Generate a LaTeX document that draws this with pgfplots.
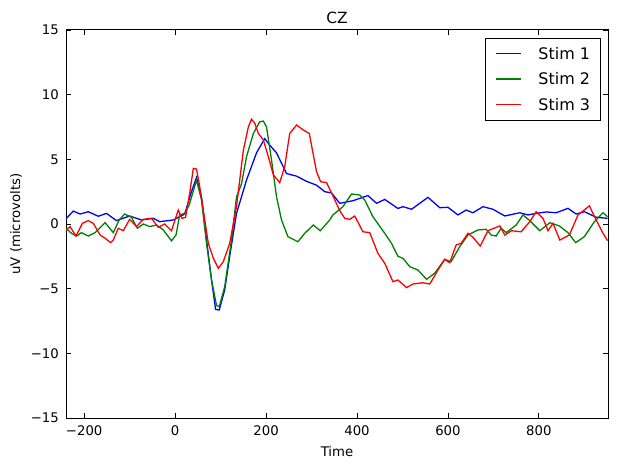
\documentclass[border=0pt]{standalone}
\usepackage{fontspec}
\setmainfont{DejaVu Sans}
\usepackage{pgfplots}
\pgfplotsset{compat=1.18}
\definecolor{mblue}{rgb}{0,0,1}
\definecolor{mgreen}{rgb}{0,0.5,0}
\definecolor{mred}{rgb}{1,0,0}
\newcommand{\legline}[1]{\textcolor{#1}{\rule[5.2bp]{25bp}{1.3bp}}\hspace{17.7bp}}
\begin{document}
\begin{tikzpicture}
\begin{axis}[
  name=ax,
  scale only axis,
  width=542bp, height=388bp,
  xmin=-240, xmax=952, ymin=-15, ymax=15,
  xtick={-200,0,200,400,600,800},
  xticklabels={−200,0,200,400,600,800},
  ytick={-15,-10,-5,0,5,10,15},
  yticklabels={−15,−10,−5,0,5,10,15},
  tick align=inside,
  major tick length=5bp,
  minor tick num=0,
  tick style={black, line width=0.8bp},
  axis line style={line width=1bp},
  every axis plot/.append style={line width=1.3bp},
  font=\fontsize{13.3}{16}\selectfont,
  ticklabel style={font=\fontsize{13.3}{16}\selectfont},
  xticklabel style={anchor=base, inner sep=0pt, yshift=-17.7bp},
  yticklabel style={anchor=east, inner sep=0pt, xshift=-7bp},
  title={CZ},
  every axis title/.style={font=\fontsize{15.5}{18}\selectfont, at={(axis description cs:0.5,1)}, anchor=base, inner sep=0pt, yshift=6bp},
  xlabel={Time},
  xlabel style={at={(axis description cs:0.5,0)}, anchor=base, yshift=-38bp},
  ylabel={uV (microvolts)},
  ylabel style={at={(axis description cs:-0.0923,0.5)}, anchor=center},
  legend cell align=left,
  legend image code/.code={},
  legend style={at={(axis description cs:1,1)}, anchor=north east, xshift=-7.5bp, yshift=-8.3bp,
    draw=black, line width=1bp,
    inner xsep=8bp, inner ysep=6.5bp, row sep=8bp,
    font=\fontsize{16}{19}\selectfont},
]
\addplot[color=mblue] coordinates {(-240,0.4) (-224,1.0) (-209,0.77) (-191,0.95) (-169,0.6) (-151,0.82) (-129,0.26) (-100,0.62) (-74,0.31) (-48,0.44) (-34,0.18) (-4,0.31) (21,0.77) (36,2.5) (47,3.6) (58,2.1) (69,-1.2) (80,-4.3) (89,-6.6) (97,-6.65) (109,-5.1) (120,-2.5) (135,0.82) (157,3.4) (179,5.5) (197,6.6) (208,6.1) (223,5.5) (245,3.9) (267,3.7) (289,3.3) (311,3.0) (329,2.5) (344,2.4) (362,1.6) (391,1.8) (424,2.2) (443,1.6) (461,1.9) (490,1.2) (501,1.34) (520,1.14) (556,2.06) (582,1.26) (600,1.29) (622,0.7) (640,1.08) (655,0.87) (677,1.34) (699,1.14) (725,0.62) (758,0.87) (776,0.7) (794,0.82) (816,0.93) (838,0.87) (864,1.21) (882,0.77) (900,0.95) (926,0.52) (951,0.44)};
\addlegendentry{\legline{mblue}Stim 1}
\addplot[color=mgreen] coordinates {(-240,-0.33) (-228,-0.72) (-217,-0.93) (-206,-0.67) (-191,-0.93) (-176,-0.67) (-154,0.1) (-136,-0.67) (-123,0.31) (-111,0.77) (-96,0.52) (-83,-0.33) (-70,0) (-56,-0.2) (-41,-0.08) (-26,-0.46) (-8,-1.3) (2,-0.85) (10,0.7) (21,0.82) (31,1.47) (47,3.4) (58,1.86) (69,-1.5) (80,-4.3) (91,-6.3) (97,-6.4) (109,-4.85) (124,-1.24) (135,2.1) (146,3.1) (157,5.2) (172,7.0) (186,7.9) (194,7.96) (201,7.5) (212,4.95) (223,2.1) (234,0.31) (248,-0.98) (270,-1.37) (285,-0.72) (304,-0.08) (319,-0.52) (340,0.31) (347,0.7) (369,1.34) (388,2.32) (406,2.24) (417,1.86) (435,0.56) (461,-0.72) (476,-1.5) (490,-2.5) (501,-2.65) (516,-3.3) (534,-3.56) (553,-4.28) (571,-3.8) (593,-2.73) (607,-2.91) (626,-1.75) (644,-0.85) (666,-0.46) (684,-0.41) (695,-0.85) (706,-0.93) (717,-0.33) (728,-0.67) (750,-0.08) (765,0.7) (780,0.26) (802,-0.52) (824,0.1) (845,-0.15) (864,-0.67) (881,-1.44) (900,-0.98) (922,0.18) (941,0.87) (951,0.56)};
\addlegendentry{\legline{mgreen}Stim 2}
\addplot[color=mred] coordinates {(-240,-0.46) (-231,-0.2) (-218,-0.93) (-204,0.05) (-191,0.26) (-180,0.05) (-165,-0.85) (-154,-1.1) (-142,-1.44) (-136,-1.24) (-125,-0.33) (-114,-0.52) (-100,0.36) (-85,-0.2) (-70,0.36) (-52,0.44) (-37,-0.26) (-23,0) (-8,-0.52) (7,1.08) (15,0.44) (23,0.52) (32,2.37) (40,4.3) (47,4.25) (54,2.9) (63,0.82) (73,-1.5) (84,-2.65) (95,-3.43) (106,-2.91) (120,-1.5) (135,1.34) (150,5.7) (161,7.5) (168,8.1) (175,7.8) (183,7.0) (194,6.5) (205,5.2) (216,3.8) (230,3.2) (241,4.43) (252,7.0) (267,7.65) (282,7.27) (295,7.0) (311,4.04) (320,3.27) (333,3.2) (348,2.1) (362,1.03) (373,0.44) (384,0.36) (395,0.62) (413,-0.6) (428,-0.67) (446,-2.27) (461,-3.04) (479,-4.46) (490,-4.33) (509,-4.92) (523,-4.64) (545,-4.54) (560,-4.64) (578,-3.56) (593,-2.73) (604,-2.99) (618,-1.62) (629,-1.5) (644,-0.72) (655,-1.03) (671,-1.7) (688,-0.52) (714,-0.15) (725,-0.85) (740,-0.52) (761,-0.6) (780,0.18) (794,0.95) (809,0.44) (820,-0.52) (831,0.05) (846,-1.24) (867,-0.85) (886,0.7) (911,1.4) (926,0.31) (941,-0.72) (951,-1.29)};
\addlegendentry{\legline{mred}Stim 3}
\end{axis}
\pgfresetboundingbox
\path ([xshift=-66bp,yshift=-50bp]ax.south west) rectangle ([xshift=10bp,yshift=30bp]ax.north east);
\end{tikzpicture}
\end{document}
